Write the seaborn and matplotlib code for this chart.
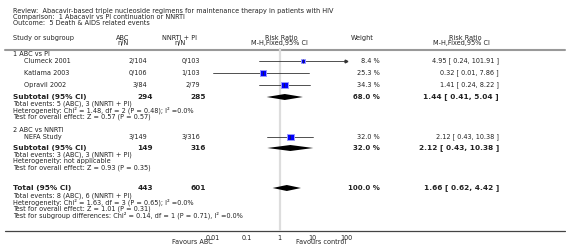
import pandas as pd
import matplotlib
matplotlib.use('Agg')
import matplotlib.pyplot as plt
import seaborn as sns
from matplotlib.ticker import NullLocator

# data
review = 'Review:  Abacavir-based triple nucleoside regimens for maintenance therapy in patients with HIV'
comparison = 'Comparison:  1 Abacavir vs PI continuation or NNRTI'
outcome = 'Outcome:  5 Death & AIDS related events'

groups = ['1 ABC vs PI', '2 ABC vs NNRTI']
studies = ['Clumeck 2001', 'Katlama 2003', 'Opravil 2002', 'NEFA Study']
abc_nN = ['2/104', '0/106', '3/84', '3/149']
ctrl_nN = ['0/103', '1/103', '2/79', '3/316']
rr = [4.95, 0.32, 1.41, 2.12]
rr_lo = [0.24, 0.01, 0.24, 0.43]
rr_hi = [101.91, 7.86, 8.22, 10.38]
weight = [8.4, 25.3, 34.3, 32.0]

sub_abc_n = [294, 149]
sub_ctrl_n = [285, 316]
sub_rr = [1.44, 2.12]
sub_lo = [0.41, 0.43]
sub_hi = [5.04, 10.38]
sub_w = [68.0, 32.0]
sub_notes = [
    ['Total events: 5 (ABC), 3 (NNRTI + PI)',
     'Heterogeneity: Chi² = 1.48, df = 2 (P = 0.48); I² =0.0%',
     'Test for overall effect: Z = 0.57 (P = 0.57)'],
    ['Total events: 3 (ABC), 3 (NNRTI + PI)',
     'Heterogeneity: not applicable',
     'Test for overall effect: Z = 0.93 (P = 0.35)'],
]

tot_abc_n = 443
tot_ctrl_n = 601
tot_rr = 1.66
tot_lo = 0.62
tot_hi = 4.42
tot_w = 100.0
tot_notes = ['Total events: 8 (ABC), 6 (NNRTI + PI)',
             'Heterogeneity: Chi² = 1.63, df = 3 (P = 0.65); I² =0.0%',
             'Test for overall effect: Z = 1.01 (P = 0.31)',
             'Test for subgroup differences: Chi² = 0.14, df = 1 (P = 0.71), I² =0.0%']

ticks = [0.01, 0.1, 1, 10, 100]
tick_labels = ['0.01', '0.1', '1', '10', '100']

# layout (pixel rows)
W, H = 566, 248
group_y = [54, 130]
study_y = [61, 73, 85, 137]
sub_y = [97, 148]
tot_y = 188
axis_y = 231

sns.set_style('white')
plt.rcParams['font.family'] = ['DejaVu Sans']
txt = '#222222'
fs = 4.7
fb = 5.35

fig = plt.figure(figsize=(W / 100, H / 100), dpi=100)

# overlay for text, pixel coordinates
ov = fig.add_axes([0, 0, 1, 1])
ov.set_xlim(0, W)
ov.set_ylim(H, 0)
ov.axis('off')

# forest plot axes: 0.01 .. 100 from x=213 to x=346
fa = fig.add_axes([213 / W, (H - axis_y) / H, 133 / W, axis_y / H])
fa.set_xscale('log')
fa.set_xlim(0.01, 100)
fa.set_ylim(axis_y, 0)
fa.patch.set_alpha(0)
for s in fa.spines.values():
    s.set_visible(False)
fa.set_yticks([])
fa.set_xticks(ticks)
fa.set_xticklabels(tick_labels, fontsize=fs, color=txt)
fa.xaxis.set_minor_locator(NullLocator())
fa.tick_params(axis='x', length=2.2, width=0.5, pad=0.6, color='#444444', direction='out')
fa.plot([1, 1], [49, axis_y], color='#dddddd', lw=1.6, zorder=0)

# header
ov.text(13, 11, review, fontsize=fs, color=txt, va='center')
ov.text(13, 17, comparison, fontsize=fs, color=txt, va='center')
ov.text(13, 23, outcome, fontsize=fs, color=txt, va='center')
ov.text(13, 38, 'Study or subgroup', fontsize=fs, color=txt, va='center')
ov.text(123, 38, 'ABC', fontsize=fs, color=txt, va='center', ha='center')
ov.text(123, 43.5, 'n/N', fontsize=fs, color=txt, va='center', ha='center')
ov.text(180, 38, 'NNRTI + PI', fontsize=fs, color=txt, va='center', ha='center')
ov.text(180, 43.5, 'n/N', fontsize=fs, color=txt, va='center', ha='center')
ov.text(281, 38, 'Risk Ratio', fontsize=fs, color=txt, va='center', ha='center')
ov.text(279, 43.5, 'M-H,Fixed,95% CI', fontsize=fs, color=txt, va='center', ha='center')
ov.text(362, 38, 'Weight', fontsize=fs, color=txt, va='center', ha='center')
ov.text(465, 38, 'Risk Ratio', fontsize=fs, color=txt, va='center', ha='center')
ov.text(461, 43.5, 'M-H,Fixed,95% CI', fontsize=fs, color=txt, va='center', ha='center')
ov.plot([5, 565], [49.5, 49.5], color='#999999', lw=1.5)

# groups and studies
for g, y in zip(groups, group_y):
    ov.text(13, y, g, fontsize=fs, color=txt, va='center')
for i, y in enumerate(study_y):
    ov.text(24, y, studies[i], fontsize=fs, color=txt, va='center')
    ov.text(147, y, abc_nN[i], fontsize=fs, color=txt, va='center', ha='right')
    ov.text(200, y, ctrl_nN[i], fontsize=fs, color=txt, va='center', ha='right')
    ov.text(380, y, f'{weight[i]:.1f} %', fontsize=fs, color=txt, va='center', ha='right')
    ov.text(499, y, f'{rr[i]:.2f} [ {rr_lo[i]:.2f}, {rr_hi[i]:.2f} ]', fontsize=fs, color=txt,
            va='center', ha='right')
    hi = min(rr_hi[i], 100)
    fa.plot([max(rr_lo[i], 0.01), hi], [y, y], color='#333333', lw=0.6, zorder=1, clip_on=False)
    if rr_hi[i] > 100:
        fa.plot([100], [y], marker='>', ms=2, color='#333333', clip_on=False, zorder=2)

df = pd.DataFrame({'rr': rr, 'y': study_y, 'w': weight})
sns.scatterplot(data=df, x='rr', y='y', size='w', sizes=(9, 24), size_norm=(8.4, 34.3),
                marker='s', color='#0000ff', edgecolor='#9a9aff', linewidth=0.7,
                legend=False, ax=fa, zorder=3, clip_on=False)
fa.scatter(rr, study_y, marker='|', s=5, color='#222222', linewidths=0.5, zorder=4)
fa.set_xlabel('')
fa.set_ylabel('')
fa.set_xlim(0.01, 100)
fa.set_ylim(axis_y, 0)


def diamond(ax, c, lo, hi, y, h=3.0):
    ax.fill([lo, c, hi, c], [y, y - h, y, y + h], color='black', lw=0, zorder=3)


# subtotals
for k, y in enumerate(sub_y):
    ov.text(13, y, 'Subtotal (95% CI)', fontsize=fb, weight='bold', color=txt, va='center')
    ov.text(153, y, str(sub_abc_n[k]), fontsize=fb, weight='bold', color=txt, va='center', ha='right')
    ov.text(206, y, str(sub_ctrl_n[k]), fontsize=fb, weight='bold', color=txt, va='center', ha='right')
    ov.text(380, y, f'{sub_w[k]:.1f} %', fontsize=fb * 0.95, weight='bold', color=txt, va='center', ha='right')
    ov.text(499, y, f'{sub_rr[k]:.2f} [ {sub_lo[k]:.2f}, {sub_hi[k]:.2f} ]', fontsize=fb,
            weight='bold', color=txt, va='center', ha='right')
    diamond(fa, sub_rr[k], sub_lo[k], sub_hi[k], y)
    for j, note in enumerate(sub_notes[k]):
        ov.text(13, y + 6.5 + j * 6.6, note, fontsize=fs, color=txt, va='center')

# total
ov.text(13, tot_y, 'Total (95% CI)', fontsize=fb, weight='bold', color=txt, va='center')
ov.text(153, tot_y, str(tot_abc_n), fontsize=fb, weight='bold', color=txt, va='center', ha='right')
ov.text(206, tot_y, str(tot_ctrl_n), fontsize=fb, weight='bold', color=txt, va='center', ha='right')
ov.text(380, tot_y, f'{tot_w:.1f} %', fontsize=fb * 0.95, weight='bold', color=txt, va='center', ha='right')
ov.text(499, tot_y, f'{tot_rr:.2f} [ {tot_lo:.2f}, {tot_hi:.2f} ]', fontsize=fb,
        weight='bold', color=txt, va='center', ha='right')
diamond(fa, tot_rr, tot_lo, tot_hi, tot_y)
for j, note in enumerate(tot_notes):
    ov.text(13, tot_y + 7.5 + j * 6.6, note, fontsize=fs, color=txt, va='center')

# bottom axis line and labels
ov.plot([5, 565], [axis_y, axis_y], color='#444444', lw=0.9)
ov.text(192, 242.5, 'Favours ABC', fontsize=fs, color=txt, va='center', ha='center')
ov.text(321, 242.5, 'Favours control', fontsize=fs, color=txt, va='center', ha='center')

fig.savefig('out.png', dpi=100)
